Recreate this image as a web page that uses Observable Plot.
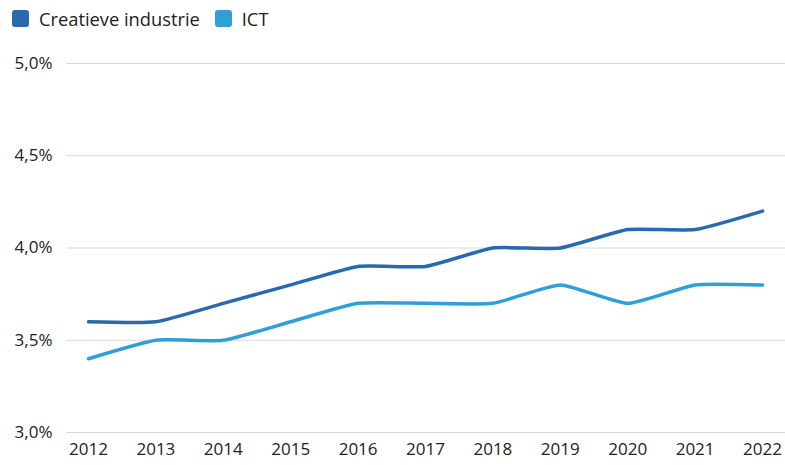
<!DOCTYPE html>
<html><head><meta charset="utf-8">
<script src="https://cdn.jsdelivr.net/npm/d3@7"></script>
<script src="https://cdn.jsdelivr.net/npm/@observablehq/plot@0.6"></script>
<style>
body{margin:0;font-family:"Open Sans",sans-serif;color:#222;background:#fff;}
#legend{height:36px;display:flex;align-items:center;padding-left:12px;font-size:18.3px;}
.item{display:flex;align-items:center;margin-right:15px;}
.sw{width:17px;height:17px;border-radius:3px;margin-right:10px;}
</style></head>
<body>
<div id="legend"></div>
<div id="chart"></div>
<script>
const years = [2012,2013,2014,2015,2016,2017,2018,2019,2020,2021,2022];
const creatief = [3.6,3.6,3.7,3.8,3.9,3.9,4.0,4.0,4.1,4.1,4.2];
const ict = [3.4,3.5,3.5,3.6,3.7,3.7,3.7,3.8,3.7,3.8,3.8];
const seriesNames = ["Creatieve industrie","ICT"];
const seriesColors = ["#2869b0","#2f9fd8"];
const yTicks = [3.0,3.5,4.0,4.5,5.0];

const data = [];
years.forEach((y,i)=>{
  data.push({year:y, value:creatief[i], serie:seriesNames[0]});
  data.push({year:y, value:ict[i], serie:seriesNames[1]});
});

const legend = document.getElementById("legend");
seriesNames.forEach((n,i)=>{
  const it = document.createElement("div"); it.className="item";
  const sw = document.createElement("div"); sw.className="sw"; sw.style.background=seriesColors[i];
  const t = document.createElement("span"); t.textContent=n;
  it.appendChild(sw); it.appendChild(t); legend.appendChild(it);
});

const fmt = v => v.toFixed(1).replace(".", ",") + "%";

const plot = Plot.plot({
  width: 785,
  height: 429,
  marginLeft: 66,
  marginRight: 0,
  marginTop: 27,
  marginBottom: 33,
  style: {fontFamily: '"Open Sans", sans-serif', fontSize: "17px", color: "#222", background: "#fff"},
  x: {type: "linear", domain: [2012, 2022], insetLeft: 22, insetRight: 23, label: null},
  y: {domain: [3.0, 5.0], label: null},
  color: {domain: seriesNames, range: seriesColors},
  marks: [
    Plot.ruleY(yTicks, {stroke: "#d9d9d9", strokeWidth: 1}),
    Plot.axisX({ticks: years, tickFormat: d => String(d), tickSize: 0, tickPadding: 10, label: null}),
    Plot.axisY({ticks: yTicks, tickFormat: fmt, tickSize: 0, tickPadding: 14, label: null}),
    Plot.line(data, {x: "year", y: "value", z: "serie", stroke: "serie", strokeWidth: 3.5, curve: "cardinal", tension: 0.5})
  ]
});
document.getElementById("chart").appendChild(plot);
</script>
</body></html>
